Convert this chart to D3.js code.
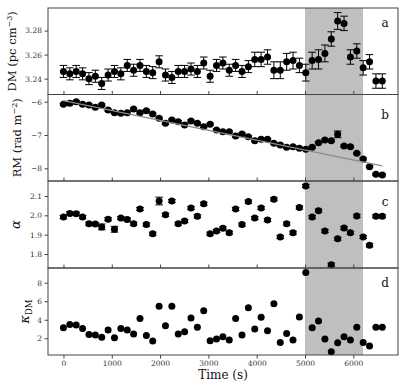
<!DOCTYPE html>
<html><head><meta charset="utf-8">
<script src="https://cdn.jsdelivr.net/npm/d3@7"></script>
<style>
body{margin:0;background:#fff;}
svg{display:block;}
text{font-family:"DejaVu Serif",serif;}
</style>
</head><body>
<svg id="chart" width="418" height="381"></svg>
<script>
// ---- data ----
const times = [0,132,264,396,528,660,792,924,1056,1188,1320,1452,1584,1716,1848,1980,2112,2244,2376,2508,2640,2772,2904,3036,3168,3300,3432,3564,3696,3828,3960,4092,4224,4356,4488,4620,4752,4884,5016,5148,5280,5412,5544,5676,5808,5940,6072,6204,6336,6468,6600];
const dm = [3.246,3.244,3.246,3.244,3.240,3.242,3.236,3.243,3.246,3.244,3.251,3.247,3.251,3.246,3.245,3.254,3.243,3.241,3.246,3.246,3.248,3.246,3.253,3.242,3.251,3.253,3.247,3.251,3.246,3.250,3.256,3.256,3.258,3.247,3.247,3.254,3.255,3.251,3.245,3.255,3.256,3.261,3.273,3.288,3.286,3.258,3.263,3.249,3.254,3.238,3.238];
const dmErr = [0.005,0.005,0.005,0.005,0.005,0.005,0.005,0.005,0.005,0.005,0.005,0.005,0.005,0.005,0.005,0.005,0.005,0.005,0.005,0.005,0.005,0.005,0.005,0.005,0.005,0.005,0.005,0.005,0.005,0.005,0.006,0.006,0.006,0.007,0.007,0.007,0.007,0.006,0.007,0.007,0.008,0.007,0.006,0.007,0.006,0.006,0.006,0.006,0.006,0.006,0.006];
const rm = [-6.08,-6.05,-6.00,-6.08,-6.10,-6.17,-6.10,-6.25,-6.33,-6.35,-6.33,-6.22,-6.33,-6.27,-6.37,-6.50,-6.65,-6.55,-6.60,-6.70,-6.58,-6.65,-6.75,-6.68,-6.85,-6.90,-6.90,-7.03,-6.97,-7.05,-7.17,-7.13,-7.13,-7.25,-7.30,-7.37,-7.35,-7.40,-7.43,-7.37,-7.23,-7.15,-7.17,-6.98,-7.33,-7.35,-7.55,-7.72,-7.95,-8.18,-8.20];
const rmErr = [0.03,0.03,0.03,0.03,0.03,0.03,0.03,0.03,0.03,0.03,0.03,0.03,0.03,0.03,0.03,0.03,0.03,0.03,0.03,0.03,0.03,0.03,0.03,0.03,0.03,0.03,0.03,0.03,0.03,0.03,0.03,0.03,0.03,0.03,0.03,0.03,0.03,0.03,0.03,0.03,0.03,0.03,0.03,0.10,0.03,0.03,0.03,0.03,0.03,0.03,0.03];
const fitTimes = [0,6600];
const fitRM = [-5.97,-7.93];
const alpha = [1.991,2.010,2.008,1.991,1.957,1.955,1.940,1.980,1.928,1.986,1.978,1.957,2.033,1.952,1.905,2.074,2.003,2.074,1.957,1.971,2.038,1.995,2.060,1.905,1.919,1.933,1.910,2.033,1.952,2.071,1.986,2.038,1.976,2.083,1.888,1.957,1.910,2.040,2.152,1.991,2.024,1.919,1.745,1.879,1.934,1.910,1.997,1.888,1.845,1.995,1.995];
const alphaErr = [0.008,0.008,0.008,0.008,0.008,0.008,0.015,0.008,0.015,0.008,0.008,0.008,0.008,0.008,0.008,0.02,0.008,0.008,0.008,0.008,0.008,0.008,0.008,0.008,0.008,0.008,0.008,0.008,0.008,0.008,0.008,0.008,0.008,0.008,0.008,0.008,0.008,0.008,0.008,0.008,0.008,0.008,0.008,0.008,0.008,0.008,0.008,0.008,0.008,0.008,0.008];
const kappa = [3.14,3.50,3.43,3.07,2.42,2.35,2.10,2.90,2.07,3.07,2.90,2.46,4.15,2.30,1.70,5.45,3.36,5.45,2.46,2.70,4.20,3.18,4.98,1.74,1.92,2.17,1.81,4.15,2.35,5.30,3.00,4.26,2.82,5.73,1.56,2.53,1.81,4.30,9.10,3.14,3.86,1.92,0.55,1.52,2.17,1.81,3.20,1.56,1.17,3.18,3.18];
const shadeStart = 5000, shadeEnd = 6200;
const xTicks = [0,1000,2000,3000,4000,5000,6000];
const dmTicks = [3.24,3.26,3.28];
const rmTicks = [-8,-7,-6];
const alphaTicks = [1.8,1.9,2.0,2.1];
const kappaTicks = [2,4,6,8];
const panelLetters = ["a","b","c","d"];

// ---- layout ----
const svg = d3.select("#chart");
const left = 48, right = 398;
const x = d3.scaleLinear().domain([-320, 6925]).range([left, right]);

const panels = [
  {top:8,    bottom:94.5, domain:[3.2268,3.2988], ticks:dmTicks,   fmt:d3.format(".2f"), vals:dm,    err:dmErr,   labelX:16, letterY:27},
  {top:94.5, bottom:181,  domain:[-8.381,-5.784], ticks:rmTicks,   fmt:d3.format("d"),   vals:rm,    err:rmErr,   labelX:21, letterY:119},
  {top:181,  bottom:268,  domain:[1.7276,2.1776], ticks:alphaTicks,fmt:d3.format(".1f"), vals:alpha, err:alphaErr,labelX:20, letterY:206},
  {top:268,  bottom:355,  domain:[0.198,9.586],   ticks:kappaTicks,fmt:d3.format("d"),   vals:kappa, err:null,    labelX:29, letterY:287}
];

panels.forEach((p) => {
  p.y = d3.scaleLinear().domain(p.domain).range([p.bottom, p.top]);
  svg.append("rect")
    .attr("x", x(shadeStart)).attr("y", p.top)
    .attr("width", x(shadeEnd) - x(shadeStart)).attr("height", p.bottom - p.top)
    .attr("fill", "#bfbfbf");
});

panels.forEach((p, i) => {
  const y = p.y;
  const g = svg.append("g");
  const pts = times.map((t, k) => ({t, v: p.vals[k], e: p.err ? p.err[k] : 0}));
  if (p.err) {
    const eb = g.append("g").attr("stroke", "#000").attr("stroke-width", 1).attr("fill", "none");
    pts.forEach(d => {
      const cx = x(d.t), y1 = y(d.v + d.e), y2 = y(d.v - d.e);
      eb.append("line").attr("x1", cx).attr("x2", cx).attr("y1", y1).attr("y2", y2);
      eb.append("line").attr("x1", cx - 3.8).attr("x2", cx + 3.8).attr("y1", y1).attr("y2", y1);
      eb.append("line").attr("x1", cx - 3.8).attr("x2", cx + 3.8).attr("y1", y2).attr("y2", y2);
    });
  }
  g.selectAll("circle").data(pts).enter().append("circle")
    .attr("cx", d => x(d.t)).attr("cy", d => y(d.v)).attr("r", 3.5).attr("fill", "#000");
  if (i === 1) {
    const line = d3.line().x(d => x(d[0])).y(d => y(d[1]));
    g.append("path").datum(fitTimes.map((t, k) => [t, fitRM[k]]))
      .attr("d", line).attr("stroke", "#8a8a8a").attr("stroke-width", 1.3).attr("fill", "none");
  }
});

panels.forEach((p, i) => {
  const y = p.y;
  const ya = svg.append("g").attr("transform", `translate(${left},0)`)
    .call(d3.axisLeft(y).tickValues(p.ticks).tickFormat(p.fmt).tickSize(3.5).tickPadding(2.5));
  ya.select(".domain").remove();
  ya.selectAll("line").attr("stroke", "#444");
  ya.selectAll("text").attr("font-family", "DejaVu Serif").attr("font-size", 7.5).attr("fill", "#333");
  const last = i === panels.length - 1;
  const xa = svg.append("g").attr("transform", `translate(0,${p.bottom})`)
    .call(d3.axisBottom(x).tickValues(xTicks).tickSize(last ? 3.5 : -3.5).tickPadding(2)
      .tickFormat(last ? d3.format("d") : () => ""));
  xa.select(".domain").remove();
  xa.selectAll("line").attr("stroke", "#444");
  xa.selectAll("text").attr("font-family", "DejaVu Serif").attr("font-size", 7.5).attr("fill", "#333");
  svg.append("rect").attr("x", left).attr("y", p.top).attr("width", right - left).attr("height", p.bottom - p.top)
    .attr("fill", "none").attr("stroke", "#444").attr("stroke-width", 1);
  svg.append("text").attr("x", 385).attr("y", p.letterY).attr("text-anchor", "middle")
    .attr("font-size", 12).attr("fill", "#111").text(panelLetters[i]);
});

function ylab(p) {
  const cy = (p.top + p.bottom) / 2;
  return svg.append("text").attr("transform", `translate(${p.labelX},${cy}) rotate(-90)`)
    .attr("text-anchor", "middle").attr("font-size", 11.5).attr("fill", "#111");
}
let t = ylab(panels[0]);
t.append("tspan").text("DM (pc cm");
t.append("tspan").attr("dy", -4).attr("font-size", 8).text("−3");
t.append("tspan").attr("dy", 4).text(")");
t = ylab(panels[1]);
t.append("tspan").text("RM (rad m");
t.append("tspan").attr("dy", -4).attr("font-size", 8).text("−2");
t.append("tspan").attr("dy", 4).text(")");
t = ylab(panels[2]);
t.append("tspan").attr("font-style", "italic").attr("font-size", 13).text("α");
t = ylab(panels[3]);
t.append("tspan").attr("font-style", "italic").attr("font-size", 13).text("κ");
t.append("tspan").attr("dy", 3).attr("font-size", 8.5).text("DM");

svg.append("text").attr("x", (left + right) / 2).attr("y", 378.5).attr("text-anchor", "middle")
  .attr("font-size", 12).attr("fill", "#111").text("Time (s)");
</script>
</body></html>
